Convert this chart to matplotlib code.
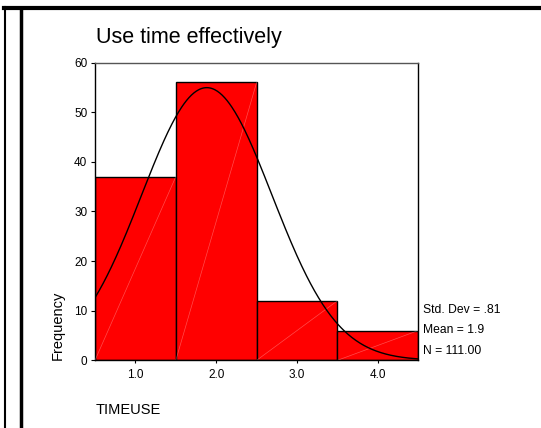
import numpy as np
import matplotlib
matplotlib.use("Agg")
import matplotlib.pyplot as plt
from matplotlib.lines import Line2D

plt.rcParams['font.family'] = ['Liberation Sans', 'DejaVu Sans']

# Histogram of TIMEUSE
bin_centers = [1.0, 2.0, 3.0, 4.0]
counts = [37, 56, 12, 6]
bin_width = 1.0
x_ticks = [1.0, 2.0, 3.0, 4.0]
x_tick_labels = ["1.0", "2.0", "3.0", "4.0"]
y_ticks = [0, 10, 20, 30, 40, 50, 60]

title = "Use time effectively"
x_label = "TIMEUSE"
y_label = "Frequency"

values = np.repeat(bin_centers, counts)
n = len(values)
mean = values.mean()
sd = values.std(ddof=1)

W, H = 541, 428
fig = plt.figure(figsize=(W / 100, H / 100), dpi=100)
fig.patch.set_facecolor("white")

ax = fig.add_axes([95 / W, 1 - 360.3 / H, (418.3 - 95) / W, (360.3 - 62.5) / H])

bars = ax.bar(bin_centers, counts, width=bin_width, color="#ff0000",
              edgecolor="black", linewidth=1.0, zorder=2)

# faint diagonal streaks across each bar
for b in bars:
    x0, y0 = b.get_x(), 0
    x1, y1 = b.get_x() + b.get_width(), b.get_height()
    ax.plot([x0, x1], [y0, y1], color="white", lw=0.5, alpha=0.3, zorder=3)

# normal curve scaled to the histogram
xs = np.linspace(0.5, 4.5, 400)
pdf = np.exp(-0.5 * ((xs - mean) / sd) ** 2) / (sd * np.sqrt(2 * np.pi))
ax.plot(xs, n * bin_width * pdf, color="black", lw=1.0, zorder=4)

ax.set_xlim(0.5, 4.5)
ax.set_ylim(0, 60)
ax.set_xticks(x_ticks)
ax.set_xticklabels(x_tick_labels)
ax.set_yticks(y_ticks)
ax.tick_params(axis="both", labelsize=8.5, colors="black", length=3, width=0.8,
               direction="out", pad=2.5)
ax.tick_params(axis="x", length=2, pad=4)
for side in ["left", "bottom", "right"]:
    ax.spines[side].set_color("black")
    ax.spines[side].set_linewidth(1.0)
ax.spines["top"].set_color("#555555")
ax.spines["top"].set_linewidth(1.0)

fig.text(96 / W, 1 - 43 / H, title, fontsize=15.5, ha="left", va="baseline")
fig.text(96 / W, 1 - 410 / H, x_label, fontsize=10.5, ha="left", va="center")
fig.text(58 / W, 1 - 360 / H, y_label, fontsize=10.5, ha="center", va="bottom",
         rotation=90)

stats = [f"Std. Dev = {sd:.2f}".replace("0.", "."),
         f"Mean = {mean:.1f}",
         f"N = {n:.2f}"]
for i, s in enumerate(stats):
    fig.text(423 / W, 1 - (310 + 20.3 * i) / H, s, fontsize=8.7, ha="left",
             va="center")

# page frame
fig.add_artist(Line2D([5 / W, 5 / W], [0, 1 - 7 / H], color="black", lw=1.5,
                      transform=fig.transFigure))
fig.add_artist(Line2D([20.5 / W, 20.5 / W], [0, 1 - 8 / H], color="black",
                      lw=2.5, transform=fig.transFigure))
fig.add_artist(Line2D([4 / W, 1], [1 - 8 / H, 1 - 8 / H], color="black",
                      lw=3.0, transform=fig.transFigure))

fig.savefig("out.png", dpi=100)
